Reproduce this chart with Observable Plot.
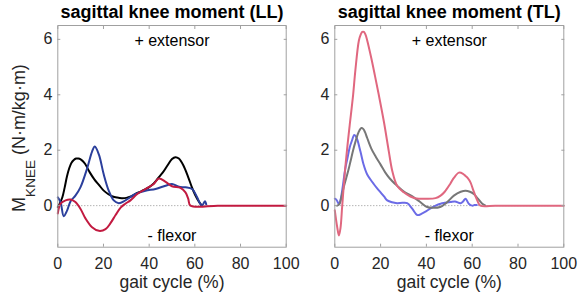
<!DOCTYPE html>
<html>
<head>
<meta charset="utf-8">
<script src="https://cdn.jsdelivr.net/npm/d3@7"></script>
<script src="https://cdn.jsdelivr.net/npm/@observablehq/plot@0.6"></script>
<style>
  html, body { margin: 0; padding: 0; background: #fff; }
  #wrap { position: relative; width: 586px; height: 295px; overflow: hidden; font-family: "Liberation Sans", Arial, sans-serif; }
  .pane { position: absolute; top: 0; }
</style>
</head>
<body>
<div id="wrap"><div class="pane" id="left"></div><div class="pane" id="right"></div></div>
<script>
// ---- labels ----
const panelTitles = ["sagittal knee moment (LL)", "sagittal knee moment (TL)"];
const xLabel = "gait cycle (%)";
const yLabelMain = "M";
const yLabelSub = "KNEE";
const yLabelUnit = " (N·m/kg·m)";
const topNote = "+ extensor";
const bottomNote = "- flexor";
const xTicks = [0, 20, 40, 60, 80, 100];
const yTicks = [0, 2, 4, 6];

// ---- LL panel ----
const LL_black_x = [0,1,2,3,4,5,6,7,8,9,10,11,12,14,16,18,20,22,24,26,28,30,32,34,36,38,40,42,44,46,48,50,51.5,53,55,57,59,61,63];
const LL_black_y = [-0.05,0.1,0.3,0.65,1.05,1.35,1.55,1.65,1.7,1.7,1.67,1.6,1.5,1.2,0.95,0.75,0.55,0.42,0.33,0.29,0.27,0.28,0.33,0.42,0.5,0.58,0.67,0.8,1.0,1.2,1.45,1.68,1.75,1.7,1.45,1.05,0.6,0.25,0.0];

const LL_blue_x = [0,1.2,2.6,4.1,5.6,7.7,9.9,12.9,15,16.2,18,20.1,22.3,24.5,26.7,29.6,34,38.4,42.8,47.2,50,53,55.9,58.8,61,62.2,63.2,64.4,65];
const LL_blue_y = [0.3,0.13,-0.38,-0.17,0.16,0.36,0.66,1.36,1.95,2.13,1.84,1.13,0.54,0.19,0.09,0.19,0.42,0.54,0.6,0.72,0.78,0.68,0.66,0.6,0.3,0.09,0.0,0.16,0.04];

const LL_red_x = [0,1.2,3.4,5.6,7.7,9.9,12.1,15,18,20.9,23,25.3,27.5,29.6,31.8,34.8,38.4,42,44.2,47.2,50,53.7,55.9,57.1,58.1,70,80,90,100];
const LL_red_y = [-0.28,0.07,0.19,0.22,0.13,-0.11,-0.46,-0.78,-0.91,-0.85,-0.64,-0.34,-0.07,0.07,0.19,0.42,0.6,0.78,0.98,0.86,0.7,0.64,0.48,0.25,0.0,0.0,0.0,0.0,0.0];

// ---- TL panel ----
const TL_pink_x = [0,1,1.8,2.5,3.2,4,4.7,5.7,6.5,8,9,10.5,11.3,12,12.7,13.4,14.1,16,17.5,19.2,21.5,23.6,25.1,27.2,30.1,33,35,40,44,46.2,48,50.5,52,54.2,56,57.1,58,59.3,60.5,62.2,63.6,70,80,90,100];
const TL_pink_y = [-0.17,-0.75,-1.08,-0.8,-0.05,0.8,1.48,2.3,2.9,4.0,4.9,5.95,6.17,6.27,6.27,6.17,5.98,5.3,4.7,4.0,3.0,1.95,1.25,0.72,0.48,0.33,0.27,0.25,0.27,0.36,0.5,0.8,1.0,1.19,1.15,1.07,1.0,0.83,0.55,0.19,0.0,0.0,0.0,0.0,0.0];

const TL_gray_x = [1,2,3,4,5,6,7,8,9,10,10.8,11.6,12.4,13.2,14.1,16,18,20,22,24,27.2,30,34.5,37,40.3,43,46,49,52,55,57.1,59,60.7,62.5,64.4,65.8];
const TL_gray_y = [0.0,0.05,0.35,0.7,1.0,1.3,1.65,2.0,2.3,2.57,2.72,2.8,2.77,2.65,2.45,2.05,1.75,1.48,1.2,0.98,0.72,0.52,0.3,0.15,-0.05,-0.08,-0.05,0.12,0.36,0.5,0.54,0.5,0.42,0.25,0.07,0.0];

const TL_blue_x = [0,0.8,1.8,2.5,3.5,4.5,5.5,6.5,7.5,8.5,9.5,11.2,12.5,14.1,15.5,17,18.5,20,21.5,22.9,25,27.2,29.5,31.6,33.8,36,38.2,40,41.8,44,46.2,48,50.5,52.5,54.9,56,57.1,58.5,60,61,62];
const TL_blue_y = [0.25,0.2,0.05,0.2,0.7,1.3,1.7,2.1,2.35,2.55,2.45,1.95,1.5,1.13,0.95,0.78,0.62,0.48,0.33,0.19,0.12,0.09,0.1,0.09,-0.11,-0.34,-0.28,-0.2,-0.1,0.0,0.07,0.1,0.13,0.15,0.09,0.15,0.25,0.07,0.0,0.02,0.02];

const toRows = (xs, ys) => xs.map((x, i) => ({x, y: ys[i]}));

const FONT = "Liberation Sans, Arial, sans-serif";
const frameColor = "#a0a0a0";
const textColor = "#262626";

function panel({title, series, width, marginLeft, marginRight}) {
  const marks = [
    Plot.ruleY([0], {stroke: "#777", strokeDasharray: "1,2", strokeWidth: 0.8}),
    ...series.map(s => Plot.line(toRows(s.x, s.y), {x: "x", y: "y", stroke: s.color, strokeWidth: 2, curve: "catmull-rom"})),
    Plot.frame({stroke: frameColor, strokeWidth: 1}),
    // tick labels
    Plot.axisY(yTicks, {tickSize: 0, tickPadding: 5.5, fontSize: 16, fill: textColor, label: null}),
    Plot.axisX(xTicks, {tickSize: 0, tickPadding: 10, fontSize: 16, fill: textColor, label: null}),
    // inward ticks on four sides
    Plot.axisY(yTicks, {anchor: "left", tickSize: 3, dx: 3, tickFormat: () => "", stroke: frameColor, label: null}),
    Plot.axisY(yTicks, {anchor: "right", tickSize: 3, dx: -3, tickFormat: () => "", stroke: frameColor, label: null}),
    Plot.axisX(xTicks, {anchor: "bottom", tickSize: 3, dy: -3, tickFormat: () => "", stroke: frameColor, label: null}),
    Plot.axisX(xTicks, {anchor: "top", tickSize: 3, dy: 3, tickFormat: () => "", stroke: frameColor, label: null}),
    // texts
    Plot.text([title], {text: d => d, frameAnchor: "top", lineAnchor: "bottom", dy: -7.5, fontSize: 18, fontWeight: "bold", fill: "#000"}),
    Plot.text([topNote], {text: d => d, frameAnchor: "top", lineAnchor: "bottom", dy: 20, fontSize: 16, fill: "#000"}),
    Plot.text([bottomNote], {text: d => d, frameAnchor: "bottom", lineAnchor: "bottom", dy: -6.7, fontSize: 16, fill: "#000"}),
    Plot.text([xLabel], {text: d => d, frameAnchor: "bottom", lineAnchor: "bottom", dy: 41, fontSize: 17.5, fill: textColor})
  ];
  return Plot.plot({
    width, height: 295,
    marginTop: 25, marginBottom: 48.3, marginLeft, marginRight,
    style: {fontFamily: FONT, background: "transparent", overflow: "visible"},
    x: {domain: [0, 100], axis: null},
    y: {domain: [-1.5, 6.5], axis: null},
    marks
  });
}

const left = panel({
  title: panelTitles[0], width: 290, marginLeft: 57.3, marginRight: 4.3,
  series: [
    {x: LL_black_x, y: LL_black_y, color: "#000000"},
    {x: LL_blue_x, y: LL_blue_y, color: "#2b3f9c"},
    {x: LL_red_x, y: LL_red_y, color: "#c21a40"}
  ]
});
const right = panel({
  title: panelTitles[1], width: 296, marginLeft: 44.3, marginRight: 22.7,
  series: [
    {x: TL_blue_x, y: TL_blue_y, color: "#6b6be6"},
    {x: TL_gray_x, y: TL_gray_y, color: "#777777"},
    {x: TL_pink_x, y: TL_pink_y, color: "#e0677f"}
  ]
});
document.getElementById("left").appendChild(left);
const rp = document.getElementById("right");
rp.style.left = "290px";
rp.appendChild(right);

// y-axis label with subscript
const svg = d3.select(left);
const t = svg.append("text")
  .attr("transform", "translate(25,138) rotate(-90)")
  .attr("text-anchor", "middle")
  .attr("fill", textColor)
  .style("font-family", FONT)
  .style("font-size", "18px");
t.append("tspan").text(yLabelMain);
t.append("tspan").attr("dy", 10).style("font-size", "13.5px").text(yLabelSub);
t.append("tspan").attr("dy", -10).text(yLabelUnit);
</script>
</body>
</html>
